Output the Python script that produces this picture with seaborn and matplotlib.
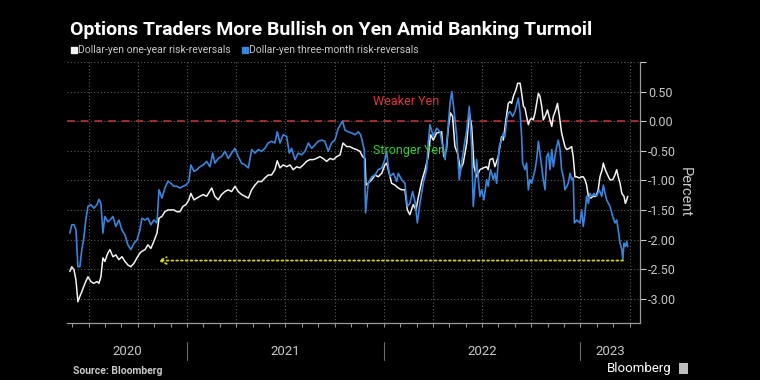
import numpy as np
import pandas as pd
import matplotlib
matplotlib.use("Agg")
import matplotlib.pyplot as plt
import matplotlib.transforms as mtransforms
from matplotlib.lines import Line2D
from matplotlib.ticker import FixedLocator, MultipleLocator
import seaborn as sns

# ---------- DATA (x in decimal years) ----------
t_three_month = [
    2020.405, 2020.415, 2020.426, 2020.436, 2020.446, 2020.456, 2020.466, 2020.476, 2020.486, 2020.497,
    2020.512, 2020.527, 2020.543, 2020.553, 2020.563, 2020.573, 2020.583, 2020.598, 2020.609, 2020.624,
    2020.639, 2020.654, 2020.670, 2020.685, 2020.700, 2020.715, 2020.731, 2020.746, 2020.761, 2020.771,
    2020.787, 2020.802, 2020.817, 2020.832, 2020.848, 2020.858, 2020.873, 2020.888, 2020.903, 2020.919,
    2020.934, 2020.949, 2020.964, 2020.980, 2020.995, 2021.010, 2021.020, 2021.036, 2021.051, 2021.066,
    2021.083, 2021.100, 2021.117, 2021.131, 2021.142, 2021.159, 2021.176, 2021.193, 2021.210, 2021.227,
    2021.244, 2021.261, 2021.278, 2021.295, 2021.312, 2021.329, 2021.346, 2021.362, 2021.380, 2021.396,
    2021.413, 2021.430, 2021.447, 2021.459, 2021.473, 2021.489, 2021.507, 2021.520, 2021.532, 2021.549,
    2021.566, 2021.583, 2021.600, 2021.617, 2021.634, 2021.651, 2021.667, 2021.685, 2021.701, 2021.718,
    2021.735, 2021.752, 2021.769, 2021.791,
    2021.803, 2021.820, 2021.837, 2021.854, 2021.871, 2021.883, 2021.893, 2021.901, 2021.908, 2021.921,
    2021.939, 2021.956, 2021.972, 2021.990, 2022.006, 2022.015, 2022.023, 2022.032, 2022.049, 2022.066,
    2022.074, 2022.091, 2022.108, 2022.120, 2022.133, 2022.147, 2022.159, 2022.171, 2022.184, 2022.201,
    2022.218, 2022.226, 2022.235, 2022.252, 2022.269, 2022.286, 2022.300, 2022.312, 2022.323, 2022.337,
    2022.346, 2022.357, 2022.371, 2022.384, 2022.396, 2022.408, 2022.422, 2022.435,
    2022.447, 2022.455, 2022.464, 2022.472, 2022.481, 2022.489, 2022.498, 2022.509, 2022.523, 2022.531,
    2022.543, 2022.557, 2022.565, 2022.574, 2022.587, 2022.599, 2022.608, 2022.616, 2022.625, 2022.633,
    2022.642, 2022.655, 2022.667, 2022.676, 2022.684, 2022.693, 2022.701, 2022.706, 2022.718, 2022.726,
    2022.735, 2022.743, 2022.752, 2022.760, 2022.769, 2022.777, 2022.786, 2022.794, 2022.803, 2022.811,
    2022.820, 2022.828, 2022.837, 2022.845, 2022.854, 2022.862, 2022.876, 2022.887, 2022.896, 2022.904,
    2022.913, 2022.921, 2022.930, 2022.938, 2022.947, 2022.955, 2022.963, 2022.969, 2022.980, 2022.997,
    2023.006, 2023.014, 2023.023, 2023.031, 2023.040, 2023.048, 2023.057, 2023.069, 2023.082, 2023.095,
    2023.108, 2023.116, 2023.125, 2023.133, 2023.142, 2023.150, 2023.164, 2023.175, 2023.184, 2023.192,
    2023.201, 2023.210, 2023.215, 2023.221, 2023.228, 2023.235, 2023.240,
]
three_month = [
    -1.89, -1.75, -1.75, -1.83, -2.46, -2.46, -2.17, -1.98, -1.67, -1.44,
    -1.41, -1.47, -1.41, -1.32, -1.39, -1.89, -1.61, -1.70, -1.67, -1.61,
    -1.78, -1.67, -1.84, -1.92, -2.09, -2.17, -2.06, -2.01, -1.84, -1.64,
    -1.67, -1.64, -1.75, -1.67, -1.72, -1.16, -1.30, -1.13, -1.02, -1.05,
    -1.10, -1.10, -1.13, -1.10, -1.08, -1.02, -0.74, -0.85, -0.82, -0.77,
    -0.74, -0.68, -0.77, -0.54, -0.71, -0.63, -0.60, -0.51, -0.63, -0.54,
    -0.46, -0.60, -0.71, -0.74, -0.79, -0.48, -0.54, -0.48, -0.51, -0.46,
    -0.37, -0.34, -0.37, -0.18, -0.37, -0.23, -0.26, -0.54, -0.46, -0.65,
    -0.54, -0.57, -0.51, -0.37, -0.46, -0.40, -0.34, -0.32, -0.34, -0.51,
    -0.37, -0.32, -0.12, 0.00,
    -0.15, -0.18, -0.20, -0.23, -0.18, -0.23, -0.37, -0.48, -1.55, -1.05,
    -0.94, -0.91, -0.82, -0.79, -0.65, -0.51, -0.77, -0.94, -0.88, -1.02,
    -0.88, -0.99, -1.05, -1.44, -1.39, -1.19, -1.36, -1.72, -1.39, -1.05,
    -0.82, -0.37, -0.06, -0.26, -0.12, -0.18, -0.43, -0.65, -0.26, 0.30,
    0.50, 0.19, -0.26, -0.99, -0.71, -0.43, -0.15, 0.25,
    -0.43, -1.44, -1.05, -0.65, -0.99, -1.27, -1.16, -1.33, -0.99, -1.10,
    -0.82, -0.99, -0.88, -1.05, -0.43, -0.32, -0.20, -0.26, 0.02, 0.14,
    0.16, 0.08, 0.16, 0.28, 0.39, 0.14, -0.26, -0.71, -0.82, -0.71,
    -1.16, -0.99, -1.05, -0.94, -0.82, -0.65, -0.34, -0.54, -0.77, -0.99,
    -1.16, -0.60, -0.54, -0.82, -0.48, -0.77, -0.48, -0.32, -0.48, -0.82,
    -0.94, -1.16, -1.10, -1.05, -0.88, -0.99, -0.96, -1.72, -1.67, -1.72,
    -1.50, -1.78, -1.55, -1.27, -1.39, -1.22, -1.27, -1.22, -1.27, -1.16,
    -1.27, -1.08, -1.22, -1.33, -1.39, -1.44, -1.61, -1.72, -1.67, -1.84,
    -2.06, -2.17, -2.34, -2.06, -2.12, -2.03, -2.12,
]

t_one_year = [
    2020.405, 2020.415, 2020.426, 2020.436, 2020.446, 2020.456, 2020.466, 2020.476, 2020.486, 2020.497,
    2020.512, 2020.527, 2020.543, 2020.553, 2020.563, 2020.573, 2020.583, 2020.598, 2020.609, 2020.624,
    2020.639, 2020.654, 2020.670, 2020.685, 2020.700, 2020.715, 2020.731, 2020.746, 2020.761, 2020.771,
    2020.787, 2020.802, 2020.817, 2020.832, 2020.848, 2020.858, 2020.873, 2020.888, 2020.903, 2020.919,
    2020.934, 2020.949, 2020.964, 2020.980, 2020.995, 2021.010, 2021.020, 2021.036, 2021.051, 2021.066,
    2021.083, 2021.100, 2021.126, 2021.142, 2021.159, 2021.176, 2021.193, 2021.210, 2021.227, 2021.244,
    2021.261, 2021.278, 2021.295, 2021.312, 2021.329, 2021.346, 2021.362, 2021.380, 2021.396, 2021.413,
    2021.430, 2021.447, 2021.459, 2021.473, 2021.489, 2021.507, 2021.524, 2021.540, 2021.558, 2021.574,
    2021.591, 2021.608, 2021.625, 2021.642, 2021.658, 2021.676, 2021.692, 2021.710, 2021.727, 2021.744,
    2021.761, 2021.778, 2021.793,
    2021.812, 2021.828, 2021.845, 2021.862, 2021.879, 2021.893, 2021.905, 2021.910, 2021.921, 2021.939,
    2021.956, 2021.972, 2021.990, 2022.006, 2022.015, 2022.028, 2022.040, 2022.057, 2022.074, 2022.091,
    2022.108, 2022.120, 2022.133, 2022.150, 2022.164, 2022.175, 2022.193, 2022.210, 2022.226, 2022.238,
    2022.252, 2022.269, 2022.294, 2022.305, 2022.319, 2022.327, 2022.339, 2022.350, 2022.362, 2022.375,
    2022.390, 2022.404, 2022.422, 2022.435, 2022.447, 2022.459, 2022.472,
    2022.489, 2022.506, 2022.523, 2022.531, 2022.540, 2022.554, 2022.565, 2022.582, 2022.599, 2022.608,
    2022.621, 2022.633, 2022.642, 2022.650, 2022.659, 2022.672, 2022.681, 2022.693, 2022.701, 2022.710,
    2022.718, 2022.726, 2022.735, 2022.743, 2022.752, 2022.760, 2022.769, 2022.777, 2022.786, 2022.794,
    2022.803, 2022.811, 2022.820, 2022.832, 2022.845, 2022.854, 2022.862, 2022.874, 2022.883, 2022.893,
    2022.904, 2022.913, 2022.921, 2022.930, 2022.943, 2022.955, 2022.963, 2022.972, 2022.980, 2022.994,
    2023.006, 2023.014, 2023.023, 2023.031, 2023.040, 2023.052, 2023.065, 2023.079, 2023.090, 2023.099,
    2023.110, 2023.116, 2023.126, 2023.142, 2023.150, 2023.164, 2023.175, 2023.184, 2023.192, 2023.201,
    2023.210, 2023.221, 2023.228, 2023.235, 2023.240,
]
one_year = [
    -2.54, -2.46, -2.51, -2.68, -3.05, -2.96, -2.88, -2.79, -2.71, -2.63,
    -2.71, -2.74, -2.71, -2.74, -2.63, -2.31, -2.37, -2.23, -2.17, -2.29,
    -2.26, -2.34, -2.29, -2.37, -2.43, -2.46, -2.40, -2.31, -2.23, -2.20,
    -2.17, -2.09, -2.15, -2.03, -1.89, -1.64, -1.61, -1.53, -1.50, -1.50,
    -1.50, -1.53, -1.53, -1.44, -1.41, -1.33, -1.22, -1.33, -1.30, -1.27,
    -1.24, -1.27, -1.13, -1.27, -1.33, -1.24, -1.19, -1.16, -1.19, -1.10,
    -1.19, -1.24, -1.27, -1.30, -1.16, -1.08, -1.02, -1.02, -0.96, -0.91,
    -0.91, -0.82, -0.67, -0.79, -0.74, -0.77, -0.74, -0.82, -0.77, -0.79,
    -0.74, -0.68, -0.65, -0.65, -0.63, -0.60, -0.63, -0.68, -0.63, -0.65,
    -0.60, -0.57, -0.37,
    -0.43, -0.43, -0.46, -0.48, -0.51, -0.60, -0.63, -1.08, -1.05, -0.99,
    -0.91, -0.94, -0.88, -0.74, -0.71, -0.88, -1.05, -1.08, -1.13, -1.16,
    -1.16, -1.50, -1.58, -1.41, -1.50, -1.30, -1.02, -0.82, -0.60, -0.23,
    -0.32, -0.20, -0.18, -0.60, -0.48, -0.15, 0.14, 0.08, -0.43, -0.54,
    -0.82, -0.71, -0.37, 0.14, -0.09, -0.77, -0.94,
    -0.82, -0.79, -0.77, -0.82, -0.65, -0.63, -0.77, -0.60, -0.26, -0.32,
    0.02, 0.30, 0.33, 0.30, 0.42, 0.53, 0.64, 0.64, 0.47, 0.25,
    0.22, 0.08, -0.06, 0.02, 0.05, 0.02, 0.14, 0.30, 0.47, 0.42,
    0.25, 0.02, 0.08, 0.19, 0.02, -0.09, 0.08, 0.19, 0.30, 0.08,
    -0.20, -0.32, -0.43, -0.48, -0.46, -0.43, -0.60, -0.94, -0.94, -0.96,
    -0.94, -0.94, -0.99, -1.08, -1.27, -1.30, -1.27, -1.27, -1.16, -0.94,
    -0.82, -0.71, -0.82, -0.94, -0.99, -0.99, -0.91, -0.82, -0.94, -1.05,
    -1.22, -1.27, -1.39, -1.33, -1.27,
]

y_ticks = [1.0, 0.5, 0.0, -0.5, -1.0, -1.5, -2.0, -2.5, -3.0]
year_labels = ["2020", "2021", "2022", "2023"]
year_starts = [2021, 2022, 2023]
series_labels = ["Dollar-yen one-year risk-reversals", "Dollar-yen three-month risk-reversals"]

# arrow level / span
arrow_level = -2.355
arrow_from, arrow_to = 2023.216, 2020.853

# ---------- STYLE ----------
BLUE = "#3a84dc"
WHITE = "#f2f2f2"
GREY = "#c8c8c8"

sns.set_theme(style="dark")
plt.rcParams["font.family"] = ["Roboto", "DejaVu Sans"]

fig = plt.figure(figsize=(7.6, 3.8), dpi=100, facecolor="black")
ax = fig.add_axes([0.088, 0.150, 0.754, 0.687])
ax.set_facecolor("black")

df_one = pd.DataFrame({"t": t_one_year, "v": one_year})
df_three = pd.DataFrame({"t": t_three_month, "v": three_month})

sns.lineplot(data=df_one, x="t", y="v", ax=ax, color=WHITE, lw=1.1, sort=False)
sns.lineplot(data=df_three, x="t", y="v", ax=ax, color=BLUE, lw=1.2, sort=False)

ax.axhline(0, color="#c8343c", ls=(0, (5, 4)), lw=1.1, zorder=1)

ax.annotate("", xy=(arrow_to, arrow_level), xytext=(arrow_from, arrow_level),
            arrowprops=dict(arrowstyle="->", color="#d6d21e", ls=":", lw=1.3,
                            shrinkA=0, shrinkB=0))

ax.text(2021.945, 0.33, "Weaker Yen", color="#e0343a", fontsize=9, va="center")
ax.text(2021.945, -0.50, "Stronger Yen", color="#2fcc2f", fontsize=9, va="center")

# ---------- AXES ----------
ax.set_xlim(2020.39, 2023.302)
ax.set_ylim(-3.41, 1.0)

ax.yaxis.tick_right()
ax.yaxis.set_label_position("right")
ax.set_yticks(y_ticks)
ax.set_yticklabels(["" if v == 1.0 else f"{v:.2f}" for v in y_ticks])
ax.set_ylabel("Percent", rotation=270, labelpad=11, color=GREY, fontsize=10.5)
ax.set_xlabel("")
ax.tick_params(axis="y", colors=GREY, labelsize=9, length=4, width=0.8, pad=2,
               direction="out", right=True, left=False)

ax.xaxis.set_major_locator(FixedLocator(np.arange(2020.5, 2023.3, 0.25)))
ax.xaxis.set_minor_locator(MultipleLocator(1 / 12))
ax.tick_params(axis="x", which="both", colors="#9a9a9a", labelbottom=False,
               bottom=True, direction="out", length=3, width=0.7)

for side in ["top", "left"]:
    ax.spines[side].set_visible(False)
for side in ["right", "bottom"]:
    ax.spines[side].set_visible(True)
    ax.spines[side].set_color("#9a9a9a")
    ax.spines[side].set_linewidth(0.9)

ax.grid(True, which="major", color="#5c5c5c", ls=(0, (1, 2)), lw=0.8)
ax.set_axisbelow(True)

# year labels and separators below the axis
trans = mtransforms.blended_transform_factory(ax.transData, ax.transAxes)
bounds = [ax.get_xlim()[0]] + year_starts + [ax.get_xlim()[1]]
for i, lab in enumerate(year_labels):
    ax.text((bounds[i] + bounds[i + 1]) / 2, -0.111, lab, transform=trans,
            ha="center", va="center", color=GREY, fontsize=9.5)
for b in year_starts:
    ax.plot([b, b], [-0.073, -0.142], transform=trans, color="#6a6a6a", lw=0.8, clip_on=False)

# ---------- TITLE, LEGEND, FOOTER ----------
fig.text(0.092, 0.921, "Options Traders More Bullish on Yen Amid Banking Turmoil",
         color="white", fontsize=14, fontweight="bold", va="center")

handles = [Line2D([], [], marker="s", ls="", color=WHITE, markersize=5),
           Line2D([], [], marker="s", ls="", color=BLUE, markersize=5)]
fig.legend(handles, series_labels, loc="center left", bbox_to_anchor=(0.092, 0.868),
           ncol=2, frameon=False, fontsize=7.5, labelcolor=GREY, handletextpad=0.05,
           columnspacing=1.0, handlelength=0.7, borderaxespad=0, borderpad=0)

fig.text(0.096, 0.024, "Source: Bloomberg", color=GREY, fontsize=7.5, fontweight="bold", va="center")
fig.text(0.884, 0.029, "Bloomberg", color="white", fontsize=9.5, ha="right", va="center")
fig.patches.append(plt.Rectangle((0.894, 0.015), 0.011, 0.03, transform=fig.transFigure,
                                 facecolor="#bdbdbd", edgecolor="none"))

fig.savefig("out.png", dpi=100, facecolor="black")
